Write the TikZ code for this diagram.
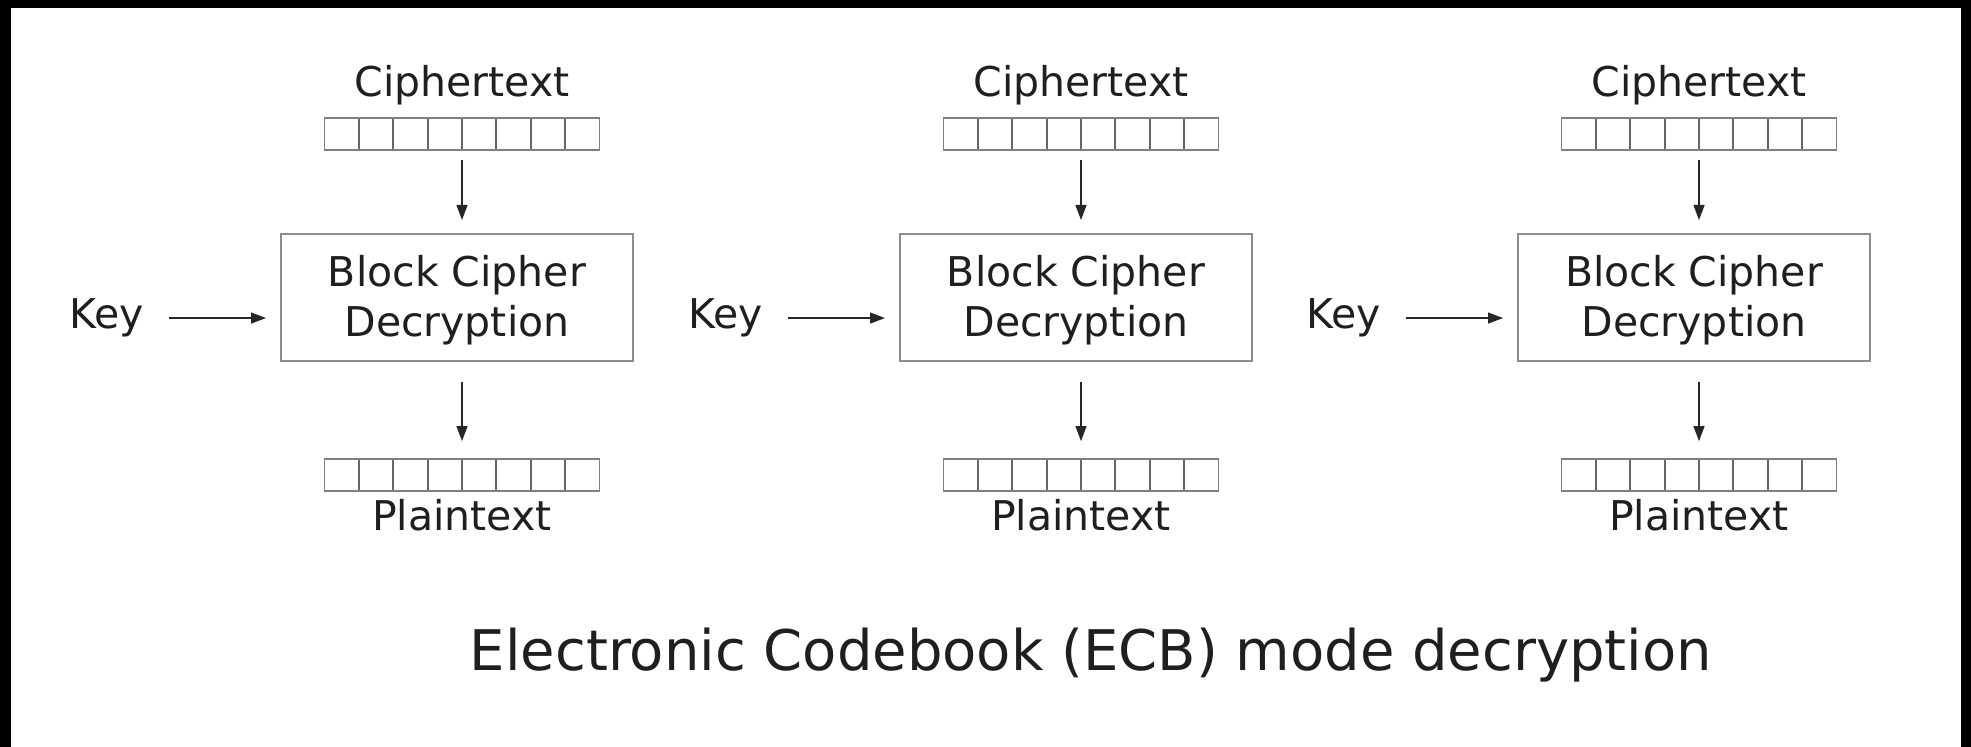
\documentclass[tikz,border=0pt]{standalone}
\usepackage{fontspec}
\setmainfont{DejaVu Sans}
\usetikzlibrary{arrows.meta}
\begin{document}
\begin{tikzpicture}[x=0.5pt,y=-0.5pt,
  lbl/.style={inner sep=0pt, anchor=base, font=\fontsize{20.5}{24}\selectfont, text=black!88},
  cellrow/.style={draw=black!50, line width=0.9pt, minimum width=137.5pt, minimum height=16pt, inner sep=0pt,
    path picture={\foreach \j in {1,...,7}{\draw[black!60,line width=0.9pt]
      ([xshift=\j*17.1875pt]path picture bounding box.north west) --
      ([xshift=\j*17.1875pt]path picture bounding box.south west);}}},
  cipherbox/.style={draw=black!45, line width=1pt, minimum width=176pt, minimum height=63.5pt,
    inner sep=0pt, align=center, text depth=2pt, font=\fontsize{20.5}{25}\selectfont, text=black!88},
  arr/.style={draw=black!85, line width=0.6pt, -{Triangle[length=7.5pt,width=5.5pt]}},
  keylbl/.style={inner sep=0pt, anchor=base, text depth=4pt, font=\fontsize{20.5}{24}\selectfont, text=black!88},
  titlelbl/.style={inner sep=0pt, anchor=base, font=\fontsize{28}{32}\selectfont, text=black!88}
]
\useasboundingbox (0,0) rectangle (1971,747);
\fill[black] (0,0) rectangle (1971,747);
\fill[white] (11,8) rectangle (1961,747);

\foreach \i/\X in {1/462, 2/1081, 3/1699} {
  \node[lbl] (ct\i) at (\X,97) {Ciphertext};
  \node[cellrow] (c\i) at (\X,134) {};
  \node[cipherbox] (b\i) at (\X-5,297.5) {Block Cipher\\Decryption};
  \node[cellrow] (p\i) at (\X,475) {};
  \node[lbl] (pt\i) at (\X,531) {Plaintext};
  \node[keylbl] (k\i) at (\X-355,329) {Key};
  \draw[arr, shorten <=4.5pt, shorten >=6.5pt] (c\i.south) -- (c\i.south |- b\i.north);
  \draw[arr, shorten <=10pt, shorten >=8.5pt] (c\i.south |- b\i.south) -- (p\i.north);
  \draw[arr, shorten <=12pt, shorten >=7pt] (k\i.east) -- (k\i.east -| b\i.west);
}
\node[titlelbl] (title) at (1091,671) {Electronic Codebook (ECB) mode decryption};
\end{tikzpicture}
\end{document}
